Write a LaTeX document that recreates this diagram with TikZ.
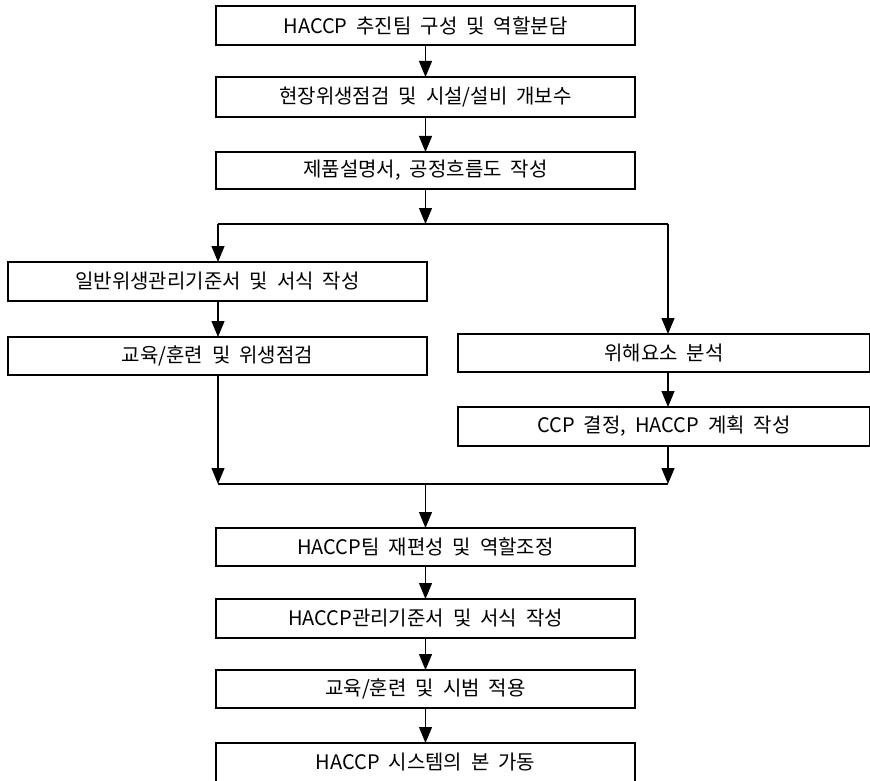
\documentclass[tikz,border=0pt]{standalone}
\usepackage{fontspec}
\setmainfont[WordSpace=2]{Noto Sans CJK KR}
\usetikzlibrary{arrows.meta}
\begin{document}
\begin{tikzpicture}[x=1pt,y=-1pt,
  box/.style={draw=black, line width=1.3pt, minimum width=419pt, inner sep=0pt,
    outer sep=0pt, anchor=north west, font=\fontsize{20pt}{24pt}\selectfont},
  wide/.style={minimum width=412pt},
  link/.style={draw=black, line width=1.2pt},
  arr/.style={link, -{Triangle[length=16pt,width=13pt]}}]
\useasboundingbox[fill=white] (0,0) rectangle (870,781);

\node[box, minimum height=39pt] (b1) at (216,6)   {HACCP 추진팀 구성 및 역할분담};
\node[box, minimum height=40pt] (b2) at (216,77)  {현장위생점검 및 시설/설비 개보수};
\node[box, minimum height=37pt] (b3) at (216,152) {제품설명서, 공정흐름도 작성};
\node[box, minimum height=39pt] (b4) at (8,262)   {일반위생관리기준서 및 서식 작성};
\node[box, minimum height=38pt] (b5) at (8,337)   {교육/훈련 및 위생점검};
\node[box, wide, minimum height=38pt] (b6) at (458,334) {위해요소 분석};
\node[box, wide, minimum height=39pt] (b7) at (458,407) {CCP 결정, HACCP 계획 작성};
\node[box, minimum height=38pt] (b8) at (216,528)  {HACCP팀 재편성 및 역할조정};
\node[box, minimum height=39pt] (b9) at (216,599)  {HACCP관리기준서 및 서식 작성};
\node[box, minimum height=38pt] (b10) at (216,670) {교육/훈련 및 시범 적용};
\node[box, minimum height=39pt] (b11) at (216,743) {HACCP 시스템의 본 가동};

\coordinate (jl) at (218,224);
\coordinate (jr) at (668,224);
\coordinate (j)  at (b3.south |- jl);
\coordinate (ml) at (218,484);
\coordinate (mr) at (668,484);
\coordinate (m)  at (b8.north |- ml);

\draw[arr] (b1.south) -- (b2.north);
\draw[arr] (b2.south) -- (b3.north);
\draw[arr] (b3.south) -- (j);
\draw[link] (jl) -- (jr);
\draw[arr] (jl) -- (jl |- b4.north);
\draw[arr] (b4.south -| jl) -- (b5.north -| jl);
\draw[arr] (jr) -- (jr |- b6.north);
\draw[arr] (b6.south -| jr) -- (b7.north -| jr);
\draw[arr] (b5.south -| ml) -- (ml);
\draw[arr] (b7.south -| mr) -- (mr);
\draw[link] (ml) -- (mr);
\draw[arr] (m) -- (b8.north);
\draw[arr] (b8.south) -- (b9.north);
\draw[arr] (b9.south) -- (b10.north);
\draw[arr] (b10.south) -- (b11.north);
\end{tikzpicture}
\end{document}
